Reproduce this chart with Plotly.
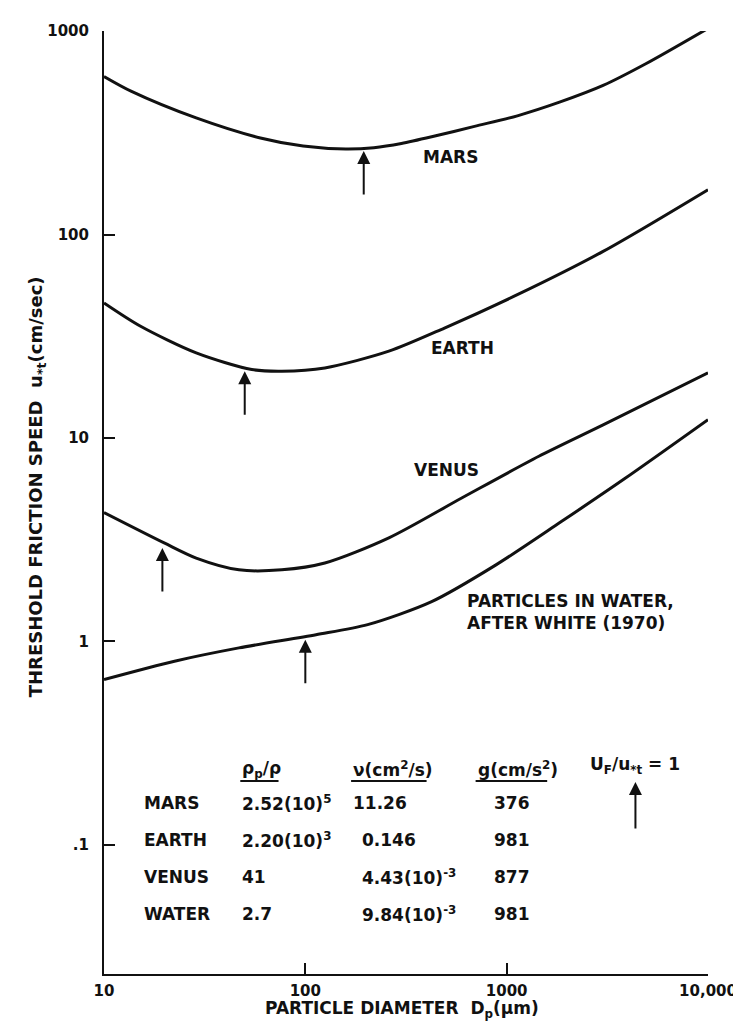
import numpy as np
import plotly.graph_objects as go

# ---------------- data ----------------
diam_mars = [10, 13.7, 28.7, 59.8, 97.5, 159, 219, 300, 424, 692, 1130, 1845, 3013, 4910, 10000]
u_mars = [598, 505, 374, 298, 272, 263, 267, 280, 302, 340, 383, 448, 540, 690, 1030]

diam_earth = [10, 15.2, 28.7, 54.2, 76.4, 125, 260, 491, 1130, 3013, 10000]
u_earth = [46.1, 35.4, 26.2, 21.7, 21.3, 22.1, 26.7, 34.7, 50.6, 82.6, 166]

diam_venus = [10, 19.9, 28.7, 46.8, 76.4, 125, 260, 598, 1445, 3013, 10000]
u_venus = [4.3, 3.05, 2.57, 2.25, 2.25, 2.43, 3.23, 5.07, 8.13, 11.6, 20.9]

diam_water = [10, 22.4, 46.8, 113, 204, 424, 885, 1845, 3846, 10000]
u_water = [0.65, 0.80, 0.93, 1.08, 1.21, 1.57, 2.38, 3.85, 6.3, 12.3]

# U_F/u*t = 1 points (arrow tips)
arrow_diam = [195, 50, 19.5, 100]
arrow_u = [257, 21.3, 2.88, 1.02]

x_tickvals = [10, 100, 1000, 10000]
x_ticktext = ["10", "100", "1000", "10,000"]
y_tickvals = [0.1, 1, 10, 100, 1000]
y_ticktext = [".1", "1", "10", "100", "1000"]

table_names = ["MARS", "EARTH", "VENUS", "WATER"]
table_rho = ["2.52(10)<sup>5</sup>", "2.20(10)<sup>3</sup>", "41", "2.7"]
table_nu = ["11.26", "0.146", "4.43(10)<sup>-3</sup>", "9.84(10)<sup>-3</sup>"]
table_g = ["376", "981", "877", "981"]

# ---------------- layout geometry ----------------
W, H = 741, 1025
L, R, T, B = 96, 712, 23, 966
FONT = "DejaVu Sans, Liberation Sans, Arial, sans-serif"
INK = "#111111"


def px(xp):
    return (xp - L) / (R - L)


def py(yp):
    return (B - yp) / (B - T)


fig = go.Figure()
for xs, ys in [(diam_mars, u_mars), (diam_earth, u_earth),
               (diam_venus, u_venus), (diam_water, u_water)]:
    fig.add_trace(go.Scatter(x=xs, y=ys, mode="lines",
                             line=dict(color=INK, width=3, shape="spline", smoothing=0.8),
                             showlegend=False, hoverinfo="skip"))

ann = []
# arrows at U_F/u*t = 1
for xa, ya in zip(arrow_diam, arrow_u):
    ann.append(dict(x=np.log10(xa), y=np.log10(ya), xref="x", yref="y", text="",
                    showarrow=True, ax=0, ay=45, arrowhead=2, arrowsize=1.3,
                    arrowwidth=2, arrowcolor=INK))

tf = dict(family=FONT, size=17, color=INK, weight="bold")


def txt(xp, yp, s, anchor="left", size=17):
    f = dict(tf)
    f["size"] = size
    ann.append(dict(x=px(xp), y=py(yp), xref="paper", yref="paper", text=s,
                    showarrow=False, xanchor=anchor, yanchor="middle", font=f))


# curve labels
txt(449, 149, "MARS", "center")
txt(462, 340, "EARTH", "center")
txt(445, 462, "VENUS", "center")
txt(464, 593, "PARTICLES IN WATER,")
txt(464, 615, "AFTER WHITE (1970)")

# table headers
txt(235, 761, "ρ<sub>p</sub>/ρ")
txt(348, 761, "ν(cm<sup>2</sup>/s)")
txt(475, 761, "g(cm/s<sup>2</sup>)")
txt(590, 757, "U<sub>F</sub>/u<sub>*t</sub> = 1")

row_y = [795, 832, 869, 906]
for i, yy in enumerate(row_y):
    txt(135, yy, table_names[i])
    txt(235, yy, table_rho[i])
    txt(348 if i == 0 else 357, yy, table_nu[i])
    txt(512, yy, table_g[i], "center")

# table arrow
ann.append(dict(x=px(638), y=py(774), xref="paper", yref="paper", text="",
                showarrow=True, ax=0, ay=48, arrowhead=2, arrowsize=1.3,
                arrowwidth=2, arrowcolor=INK))

# axis titles
txt(28, 479, "THRESHOLD FRICTION SPEED  u<sub>*t</sub>(cm/sec)", "center", 18)
ann[-1]["textangle"] = -90
txt(400, 1001, "PARTICLE DIAMETER  D<sub>p</sub>(μm)", "center", 17)

shapes = []
for x0, x1 in [(235, 274), (348, 425), (475, 548)]:
    shapes.append(dict(type="line", xref="paper", yref="paper",
                       x0=px(x0), x1=px(x1), y0=py(773), y1=py(773),
                       line=dict(color=INK, width=2)))

tickfont = dict(family=FONT, size=15, color=INK, weight="bold")
fig.update_layout(
    width=W, height=H,
    margin=dict(l=L, r=W - R, t=T, b=H - B, pad=0),
    paper_bgcolor="white", plot_bgcolor="white",
    font=dict(family=FONT, size=17, color=INK, weight="bold"),
    annotations=ann, shapes=shapes, showlegend=False,
    xaxis=dict(type="log", range=[1, 4], tickvals=x_tickvals, ticktext=x_ticktext,
               showgrid=False, zeroline=False, showline=True, linecolor=INK, linewidth=2,
               ticks="inside", ticklen=11, tickwidth=2, tickcolor=INK,
               tickfont=tickfont, ticklabelstandoff=2),
    yaxis=dict(type="log", range=[-1.634, 3.0], tickvals=y_tickvals, ticktext=y_ticktext,
               showgrid=False, zeroline=False, showline=True, linecolor=INK, linewidth=2,
               ticks="inside", ticklen=11, tickwidth=2, tickcolor=INK,
               tickfont=tickfont, ticklabelstandoff=10),
)

fig.write_html("out.html")
